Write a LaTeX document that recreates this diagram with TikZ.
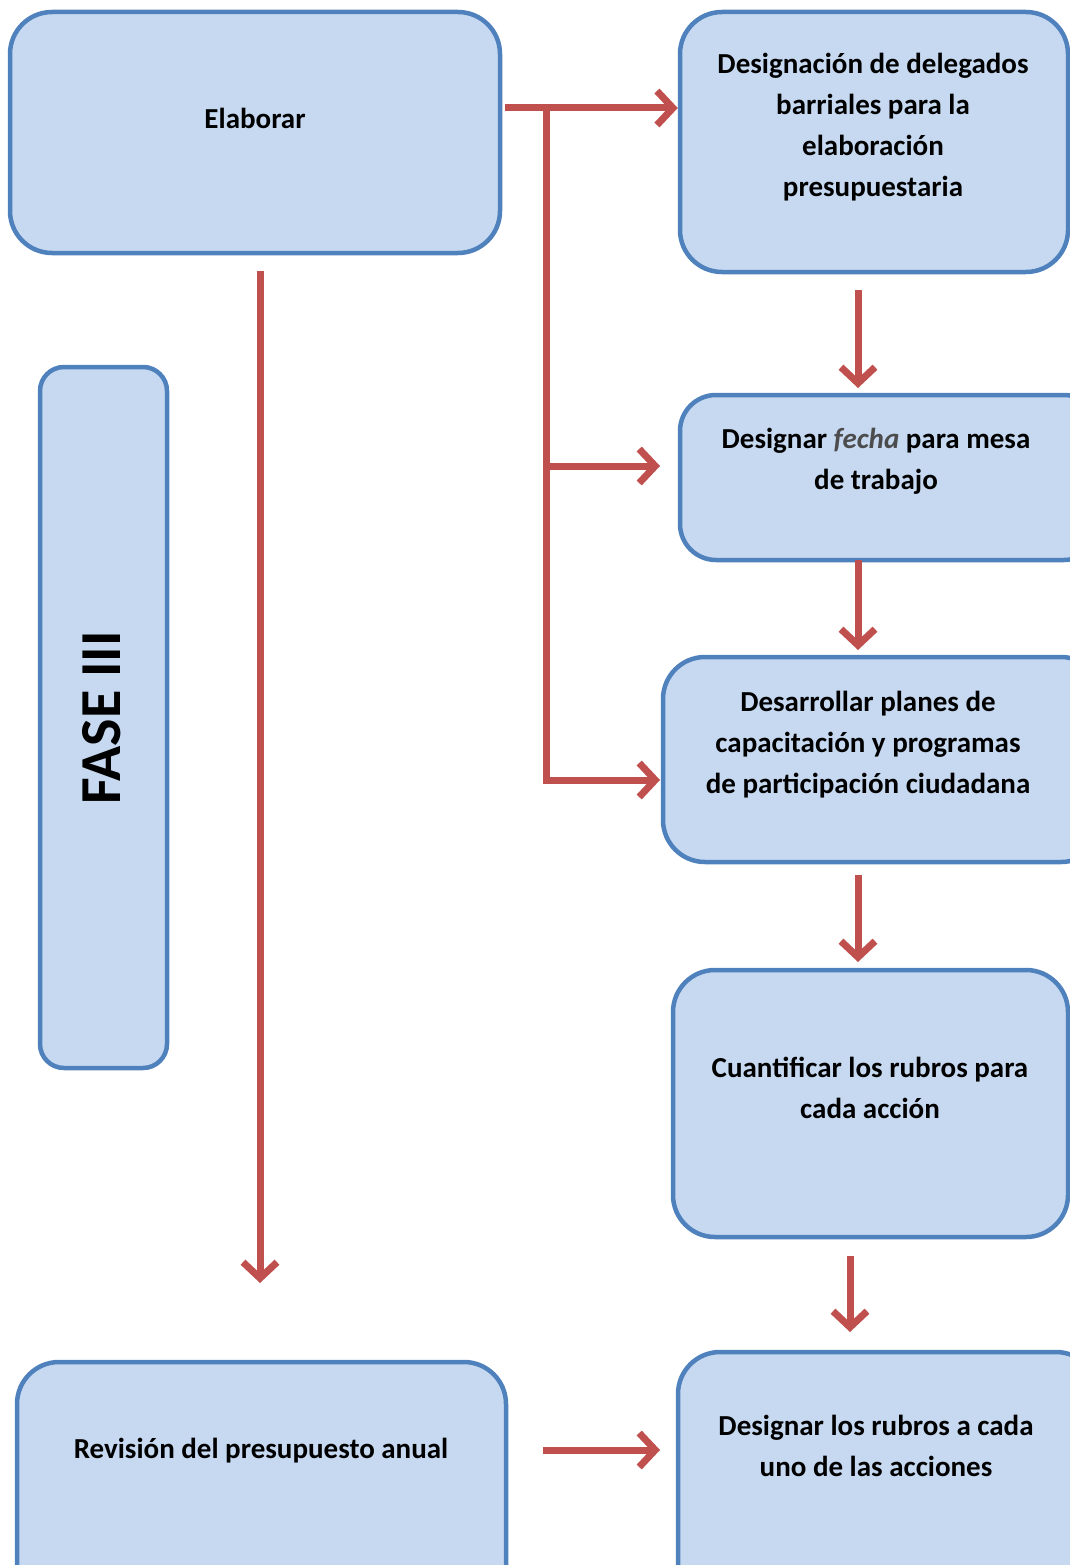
\documentclass[tikz,border=0pt]{standalone}
\usepackage{fontspec}
\setmainfont{Carlito}
\usetikzlibrary{arrows.meta}
\definecolor{boxfill}{RGB}{198,217,241}
\definecolor{boxline}{RGB}{79,129,189}
\definecolor{arrowred}{RGB}{192,80,77}
\tikzset{
  box/.style={draw=boxline, fill=boxfill, line width=4.5pt, rounded corners=42pt, inner sep=0pt},
  lbl/.style={font=\bfseries\fontsize{29}{41}\selectfont, align=center, text=black, inner sep=0pt},
  flow/.style={draw=arrowred, line width=7pt, -{Straight Barb[length=16pt,width=34pt,line width=7pt]}},
  plain/.style={draw=arrowred, line width=7pt}
}
\begin{document}
\begin{tikzpicture}[x=1pt,y=-1pt]
\useasboundingbox (0,0) rectangle (1070,1565);
\clip (0,0) rectangle (1070,1565);
% boxes
\node[box, minimum width=490pt, minimum height=241pt] (elab) at (255,132.5) {};
\node[box, minimum width=388pt, minimum height=260pt] (b1) at (874,142) {};
\node[box, minimum width=420pt, minimum height=165pt, rounded corners=36pt] (b2) at (890,477.5) {};
\node[box, minimum width=440pt, minimum height=205pt] (b3) at (883,759.5) {};
\node[box, minimum width=395pt, minimum height=267pt] (b4) at (870.5,1103.5) {};
\node[box, minimum width=420pt, minimum height=260pt] (b5) at (888,1482) {};
\node[box, minimum width=489pt, minimum height=260pt] (rev) at (261.5,1492) {};
\node[box, minimum width=127pt, minimum height=701pt, rounded corners=24pt] (fase) at (103.5,717.5) {};
% labels
\node[lbl] (telab) at (255,118) {Elaborar};
\node[lbl] (tb1) at (873,127) {Designación de delegados\\barriales para la\\elaboración\\presupuestaria};
\node[lbl] (tb2) at (876,461.5) {Designar {\color{black!70}\itshape fecha} para mesa\\de trabajo};
\node[lbl] (tb3) at (868,744.5) {Desarrollar planes de\\capacitación y programas\\de participación ciudadana};
\node[lbl] (tb4) at (870,1088) {Cuantificar los rubros para\\cada acción};
\node[lbl] (tb5) at (876,1446) {Designar los rubros a cada\\uno de las acciones};
\node[lbl] (trev) at (261,1451) {Revisión del presupuesto anual};
\node[font=\bfseries\fontsize{58}{60}\selectfont, rotate=90, inner sep=0pt] (tfase) at (102,718) {FASE III};
% connector coordinates
\coordinate (s0) at (505,108);
\coordinate (j1) at (546,108);
\coordinate (j2) at (546,466);
\coordinate (j3) at (546,780);
\coordinate (e2) at (660,466);
\coordinate (e3) at (660,780);
\coordinate (ls) at (260,271);
\coordinate (le) at (260,1283);
\coordinate (v1s) at (858,290);
\coordinate (v1e) at (858,388);
\coordinate (v2s) at (858,560);
\coordinate (v2e) at (858,650);
\coordinate (v3s) at (858,875);
\coordinate (v3e) at (858,962);
\coordinate (v4s) at (850,1256);
\coordinate (v4e) at (850,1332);
\coordinate (hs) at (543,1450);
\coordinate (he) at (660,1450);
% connectors
\draw[flow] (s0) -- (b1.west |- s0);
\draw[plain] (j1) -- (546,783.5);
\draw[flow] (j2) -- (e2);
\draw[flow] (j3) -- (e3);
\draw[flow] (ls) -- (le);
\draw[flow] (v1s) -- (v1e);
\draw[flow] (v2s) -- (v2e);
\draw[flow] (v3s) -- (v3e);
\draw[flow] (v4s) -- (v4e);
\draw[flow] (hs) -- (he);
\end{tikzpicture}
\end{document}
